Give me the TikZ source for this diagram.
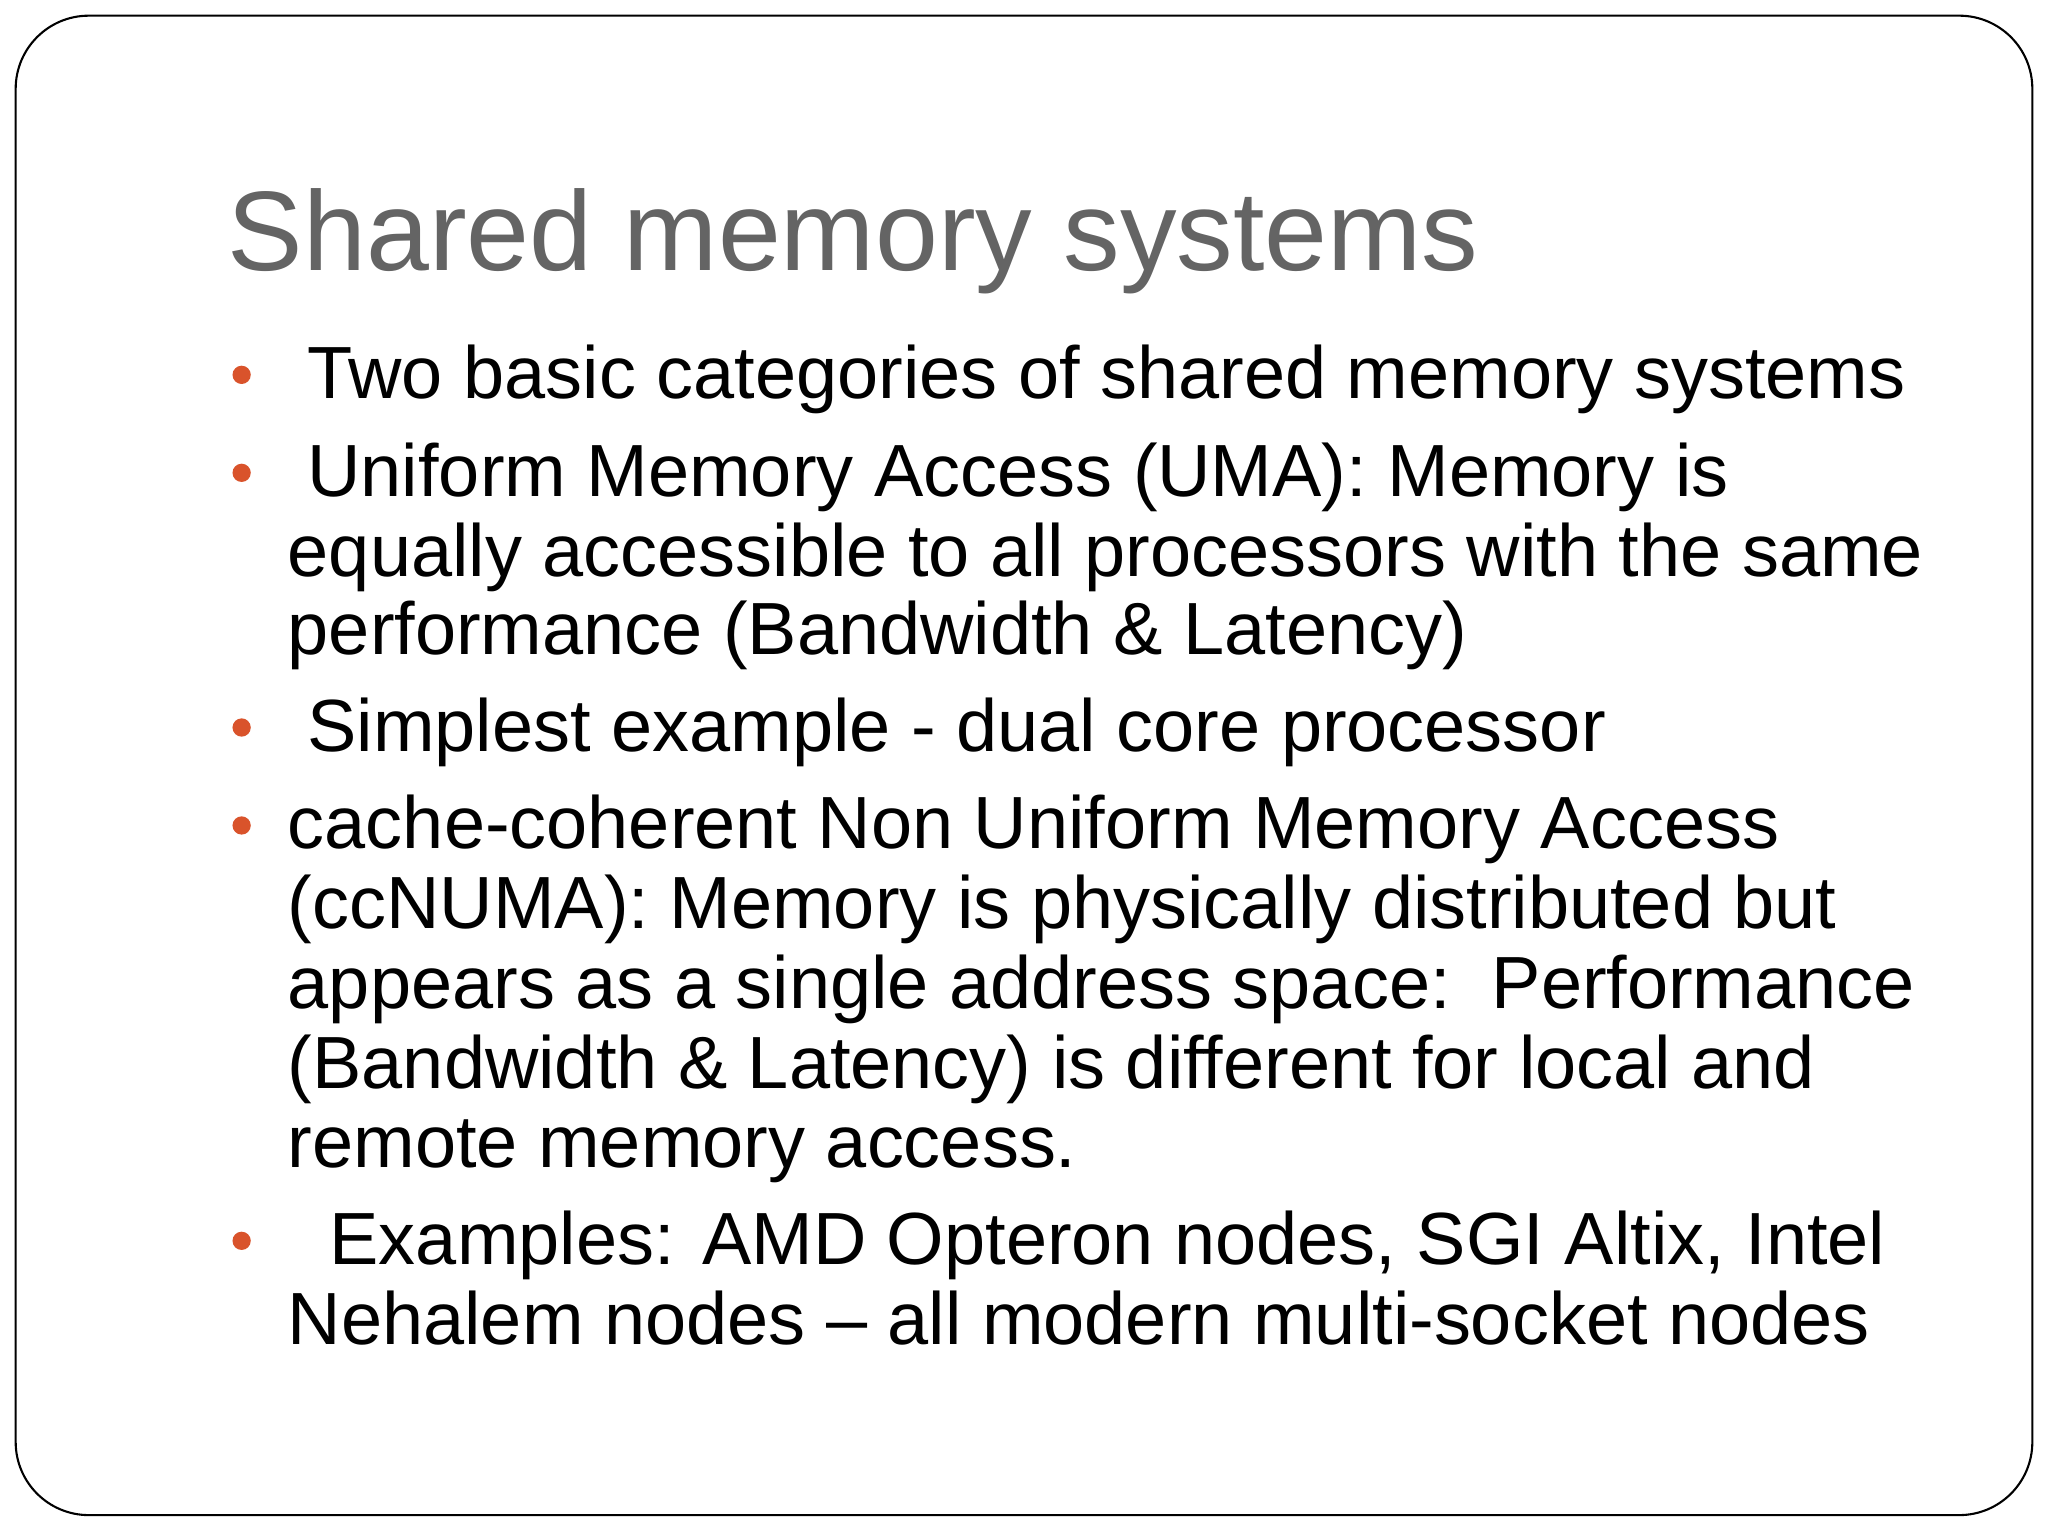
\documentclass[tikz,border=0pt]{standalone}
\usepackage{fontspec}
\setmainfont{Liberation Sans}
\definecolor{titlegray}{HTML}{646464}
\definecolor{bulletorange}{HTML}{D9532B}
\begin{document}
\begin{tikzpicture}[x=0.5pt,y=-0.5pt,
  body/.style={anchor=base west,inner sep=0pt,font=\fontsize{28.3pt}{30.5pt}\selectfont},
  dot/.style={circle,fill=bulletorange,inner sep=0pt,minimum size=7pt}]
\useasboundingbox (0,0) rectangle (1568,1176);
\draw[line width=0.8pt,rounded corners=28pt] (12,12) rectangle (1556,1160);
\node[anchor=base west,inner sep=0pt,text=titlegray,font=\fontsize{43.3pt}{46pt}\selectfont] (title) at (174,207) {Shared memory systems};
\node[dot] (d1) at (185,287) {};
\node[dot] (d2) at (185,362) {};
\node[dot] (d3) at (185,557) {};
\node[dot] (d4) at (185,632) {};
\node[dot] (d5) at (185,950) {};
\node[body] (t1) at (235,305) {Two basic categories of shared memory systems};
\node[body] (t2a) at (235,380) {Uniform Memory Access (UMA): Memory is};
\node[body] (t2b) at (220,441) {equally accessible to all processors with the same};
\node[body] (t2c) at (220,501) {performance (Bandwidth \& Latency)};
\node[body] (t3) at (235,575) {Simplest example - dual core processor};
\node[body] (t4a) at (220,650) {cache-coherent Non Uniform Memory Access};
\node[body] (t4b) at (220,711) {(ccNUMA): Memory is physically distributed but};
\node[body] (t4c) at (220,772) {appears as a single address space:\ \ Performance};
\node[body] (t4d) at (220,833) {(Bandwidth \& Latency) is different for local and};
\node[body] (t4e) at (220,894) {remote memory access.};
\node[body] (t5a) at (252,968) {Examples: AMD Opteron nodes, SGI Altix, Intel};
\node[body] (t5b) at (220,1029) {Nehalem nodes -- all modern multi-socket nodes};
\end{tikzpicture}
\end{document}
